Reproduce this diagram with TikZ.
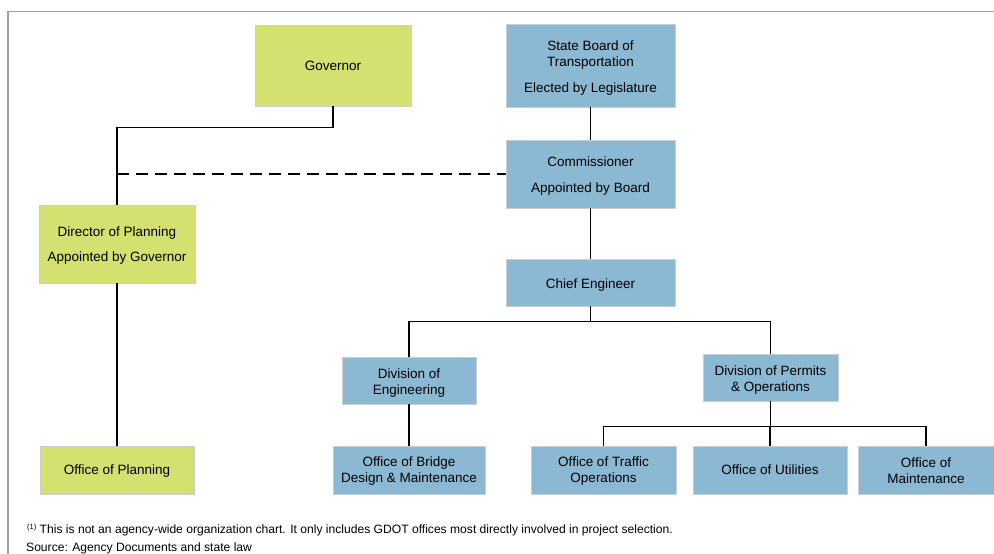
\documentclass[tikz,border=0pt]{standalone}
\usepackage{fontspec}
\setmainfont{Liberation Sans}
\definecolor{boxgreen}{RGB}{212,224,112}
\definecolor{boxblue}{RGB}{139,185,211}
\definecolor{boxedge}{RGB}{205,205,205}
\definecolor{framegray}{RGB}{160,160,160}
\tikzset{
  orgbox/.style={draw=boxedge, line width=0.8pt, inner sep=0pt},
  greenbox/.style={orgbox, fill=boxgreen},
  bluebox/.style={orgbox, fill=boxblue},
  boxtext/.style={inner sep=0pt, align=center, yshift=-2.5pt,
    font=\fontsize{13.5}{16}\selectfont},
  link/.style={draw=black, line width=1.3pt},
  dashlink/.style={link, dash pattern=on 12pt off 7pt},
  notetext/.style={anchor=base west, inner sep=0pt, font=\fontsize{12.1}{14}\selectfont}
}
\begin{document}
\begin{tikzpicture}[x=1pt,y=-1pt]
\useasboundingbox (0,0) rectangle (994,554);
\draw[framegray, line width=1.5pt] (994,11.5) -- (8,11.5) -- (8,554);

\node[greenbox, minimum width=156, minimum height=81,
  label={[boxtext, yshift=2.5pt]center:Governor}] (gov) at (333,65.5) {};
\node[bluebox, minimum width=169, minimum height=83,
  label={[boxtext]center:State Board of\\Transportation\\[10pt]Elected by Legislature}] (board) at (590.5,65.5) {};
\node[bluebox, minimum width=169, minimum height=68,
  label={[boxtext]center:Commissioner\\[10pt]Appointed by Board}] (comm) at (590.5,174) {};
\node[greenbox, minimum width=156, minimum height=78,
  label={[boxtext, yshift=0.5pt]center:Director of Planning\\[9pt]Appointed by Governor}] (dir) at (117,244) {};
\node[bluebox, minimum width=169, minimum height=47,
  label={[boxtext]center:Chief Engineer}] (chief) at (590.5,282.5) {};
\node[bluebox, minimum width=134, minimum height=47,
  label={[boxtext, yshift=-0.5pt]center:Division of\\Engineering}] (deng) at (409,380.5) {};
\node[bluebox, minimum width=135, minimum height=47,
  label={[boxtext]center:Division of Permits\\\& Operations}] (dperm) at (770.5,377.5) {};
\node[greenbox, minimum width=154, minimum height=48,
  label={[boxtext, yshift=1.5pt]center:Office of Planning}] (oplan) at (117,470) {};
\node[bluebox, minimum width=152, minimum height=48,
  label={[boxtext, yshift=1.5pt]center:Office of Bridge\\Design \& Maintenance}] (bridge) at (409,470) {};
\node[bluebox, minimum width=145, minimum height=48,
  label={[boxtext, yshift=1pt]center:Office of Traffic\\Operations}] (traffic) at (603.5,470) {};
\node[bluebox, minimum width=154, minimum height=48,
  label={[boxtext, yshift=2.5pt]center:Office of Utilities}] (util) at (770,470) {};
\node[bluebox, minimum width=136, minimum height=48,
  label={[boxtext, yshift=2pt]center:Office of\\Maintenance}] (maint) at (926,470) {};

\coordinate (dashstart) at (117,174);
\draw[link] (gov.south) -- ++(0,21) -| (dir.north);
\draw[dashlink] (dashstart) -- (dashstart -| comm.west);
\draw[link] (board) -- (comm);
\draw[link] (comm) -- (chief);
\draw[link] (chief.south) -- ++(0,15) -| (deng.north);
\draw[link] (chief.south) -- ++(0,15) -| (dperm.north);
\draw[link] (dir.south) -- (dir.south |- oplan.north);
\draw[link] (deng.south) -- (bridge.north);
\draw[link] (dperm.south) -- ++(0,25) -| (traffic.north);
\draw[link] (dperm.south) -- ++(0,25) -| (util.north);
\draw[link] (dperm.south) -- ++(0,25) -| (maint.north);

\node[notetext] (note) at (27,533)
  {\raisebox{3.5pt}{\fontsize{7.5}{8}\selectfont(1)} This is not an agency-wide organization chart. It only includes GDOT offices most directly involved in project selection.};
\node[notetext] (source) at (26,551)
  {Source: Agency Documents and state law};
\end{tikzpicture}
\end{document}
